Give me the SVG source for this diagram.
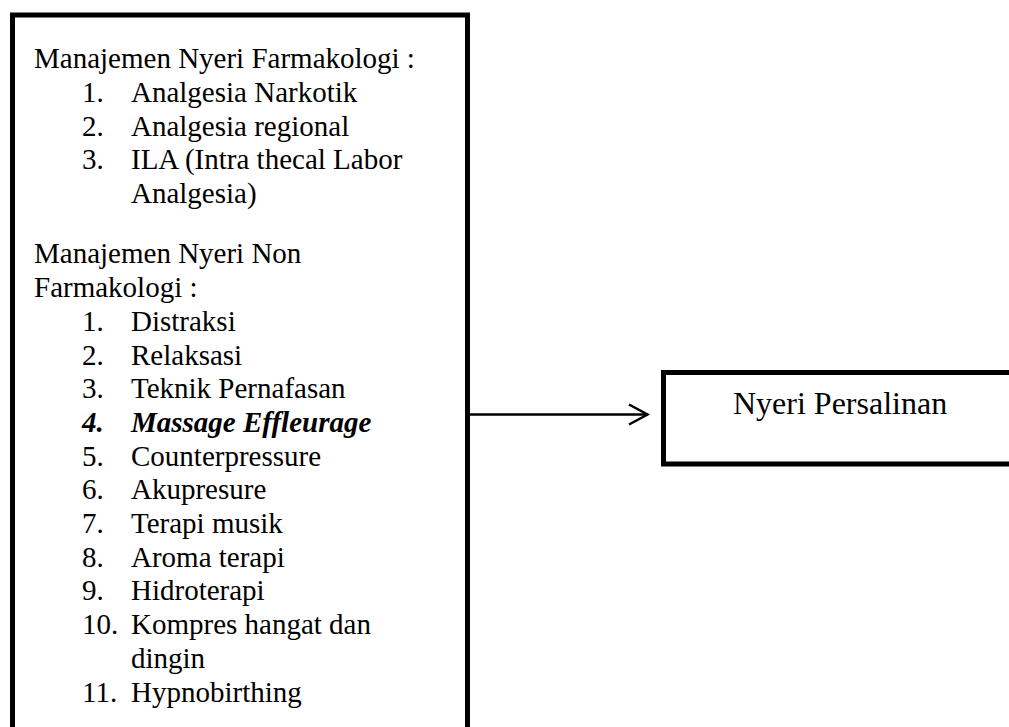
<svg xmlns="http://www.w3.org/2000/svg" width="1009" height="727" viewBox="0 0 1009 727">
<style>
.box{fill:#fff;stroke:#000;stroke-width:5}
.t{font-family:"Liberation Serif","Times New Roman",serif;font-size:29px;fill:#000}
.r{font-family:"Liberation Serif","Times New Roman",serif;font-size:32px;fill:#000}
.b{font-weight:bold;font-style:italic}
.conn{stroke:#000;stroke-width:2.5;fill:none}
</style>
<rect x="0" y="0" width="1009" height="727" fill="#fff"/>
<g id="node-manajemen">
<rect class="box" x="12.5" y="15" width="455" height="730"/>
<text class="t" x="34" y="68">Manajemen Nyeri Farmakologi :</text>
<text class="t" x="82" y="102">1.</text><text class="t" x="131" y="102">Analgesia Narkotik</text>
<text class="t" x="82" y="136">2.</text><text class="t" x="131" y="136">Analgesia regional</text>
<text class="t" x="82" y="169">3.</text><text class="t" x="131" y="169">ILA (Intra thecal Labor</text>
<text class="t" x="131" y="203">Analgesia)</text>
<text class="t" x="34" y="263">Manajemen Nyeri Non</text>
<text class="t" x="34" y="297">Farmakologi :</text>
<text class="t" x="82" y="331">1.</text><text class="t" x="131" y="331">Distraksi</text>
<text class="t" x="82" y="365">2.</text><text class="t" x="131" y="365">Relaksasi</text>
<text class="t" x="82" y="398">3.</text><text class="t" x="131" y="398">Teknik Pernafasan</text>
<text class="t b" x="82" y="432">4.</text><text class="t b" x="131" y="432">Massage Effleurage</text>
<text class="t" x="82" y="466">5.</text><text class="t" x="131" y="466">Counterpressure</text>
<text class="t" x="82" y="499">6.</text><text class="t" x="131" y="499">Akupresure</text>
<text class="t" x="82" y="533">7.</text><text class="t" x="131" y="533">Terapi musik</text>
<text class="t" x="82" y="567">8.</text><text class="t" x="131" y="567">Aroma terapi</text>
<text class="t" x="82" y="600">9.</text><text class="t" x="131" y="600">Hidroterapi</text>
<text class="t" x="82" y="634">10.</text><text class="t" x="131" y="634">Kompres hangat dan</text>
<text class="t" x="131" y="668">dingin</text>
<text class="t" x="82" y="702">11.</text><text class="t" x="131" y="702">Hypnobirthing</text>
</g>
<g id="node-nyeri">
<rect class="box" x="663.5" y="372.5" width="360" height="91.5"/>
<text class="r" x="733" y="414">Nyeri Persalinan</text>
</g>
<g id="connectors">
<line class="conn" x1="470" y1="414.5" x2="647" y2="414.5"/>
<polyline class="conn" points="629,404.5 647.5,414.5 629,424.5"/>
</g>
</svg>
